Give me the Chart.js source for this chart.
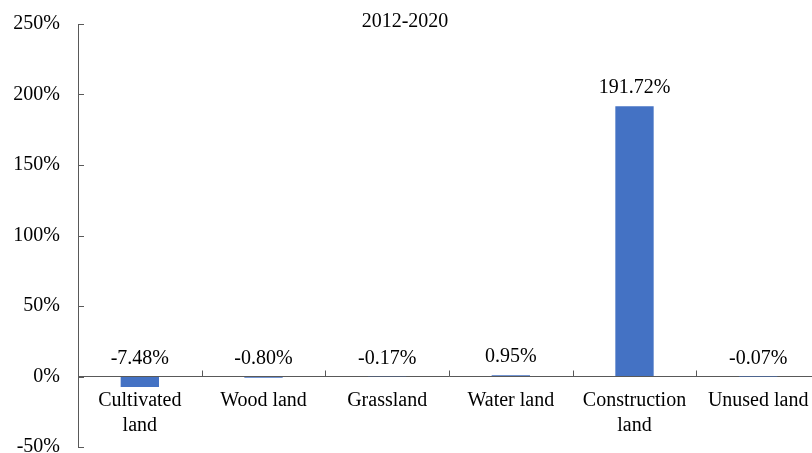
<!DOCTYPE html>
<html>
<head>
<meta charset="utf-8">
<script src="https://cdn.jsdelivr.net/npm/chart.js@4"></script>
<style>
  html, body { margin: 0; padding: 0; background: #fff; overflow: hidden; }
  #wrap { width: 812px; height: 453px; overflow: hidden; }
</style>
</head>
<body>
<div id="wrap"><canvas id="bars" width="830" height="453"></canvas></div>
<script>
var ctx = document.getElementById("bars").getContext('2d');

// Land use change rates, 2012-2020
var periodTitle = "2012-2020";
var categories = [["Cultivated", "land"], "Wood land", "Grassland", "Water land", ["Construction", "land"], "Unused land"];
var changeRates = [-7.48, -0.80, -0.17, 0.95, 191.72, -0.07]; // percent
var yTicks = [-50, 0, 50, 100, 150, 200, 250];

var serif = '"Liberation Serif", "Times New Roman", serif';
var axisColor = '#595959';

// inward tick marks, value labels and the period caption
var extras = {
    id: 'extras',
    afterDatasetsDraw: function(chart) {
        var c = chart.ctx, x = chart.scales.x, y = chart.scales.y;
        var y0 = y.getPixelForValue(0);
        c.save();
        c.strokeStyle = axisColor;
        c.lineWidth = 1;
        c.beginPath();
        yTicks.forEach(function(v) {
            var py = Math.round(y.getPixelForValue(v)) + 0.5;
            c.moveTo(x.left, py);
            c.lineTo(x.left + 6, py);
        });
        for (var i = 1; i <= categories.length; i++) {
            var px = Math.round((x.getPixelForValue(i - 1) + x.getPixelForValue(i)) / 2) + 0.5;
            c.moveTo(px, y0);
            c.lineTo(px, y0 - 6);
        }
        c.stroke();

        c.fillStyle = '#000';
        c.font = '20px ' + serif;
        c.textAlign = 'center';
        c.textBaseline = 'alphabetic';
        changeRates.forEach(function(v, i) {
            var top = y.getPixelForValue(Math.max(v, 0));
            c.fillText(v.toFixed(2) + '%', x.getPixelForValue(i), top - 13);
        });

        c.textBaseline = 'middle';
        c.fillText(periodTitle, 405, 22);
        c.restore();
    }
};

var chart = new Chart(ctx, {
    type: 'bar',
    data: {
        labels: categories,
        datasets: [{
            label: periodTitle,
            data: changeRates,
            backgroundColor: '#4472C4',
            barPercentage: 0.31,
            categoryPercentage: 1
        }]
    },
    options: {
        responsive: false,
        animation: false,
        layout: { padding: { top: 24, right: 10, bottom: 6, left: 0 } },
        plugins: { legend: { display: false }, tooltip: { enabled: false } },
        scales: {
            x: {
                position: { y: 0 },
                afterFit: function(s) { s.height = 0; },
                grid: { display: true, drawOnChartArea: false, drawTicks: false },
                border: { color: axisColor, width: 1 },
                ticks: {
                    color: '#000',
                    padding: 12,
                    maxRotation: 0,
                    autoSkip: false,
                    font: { family: serif, size: 20, lineHeight: 1.25 }
                }
            },
            y: {
                min: -50,
                max: 250,
                afterFit: function(s) { s.width = 78; s.paddingTop = 0; s.paddingBottom = 0; },
                grid: { display: true, drawOnChartArea: false, drawTicks: false },
                border: { color: axisColor, width: 1 },
                ticks: {
                    stepSize: 50,
                    padding: 18,
                    color: '#000',
                    font: { family: serif, size: 20 },
                    callback: function(v) { return v + '%'; }
                }
            }
        }
    },
    plugins: [extras]
});
</script>
</body>
</html>
